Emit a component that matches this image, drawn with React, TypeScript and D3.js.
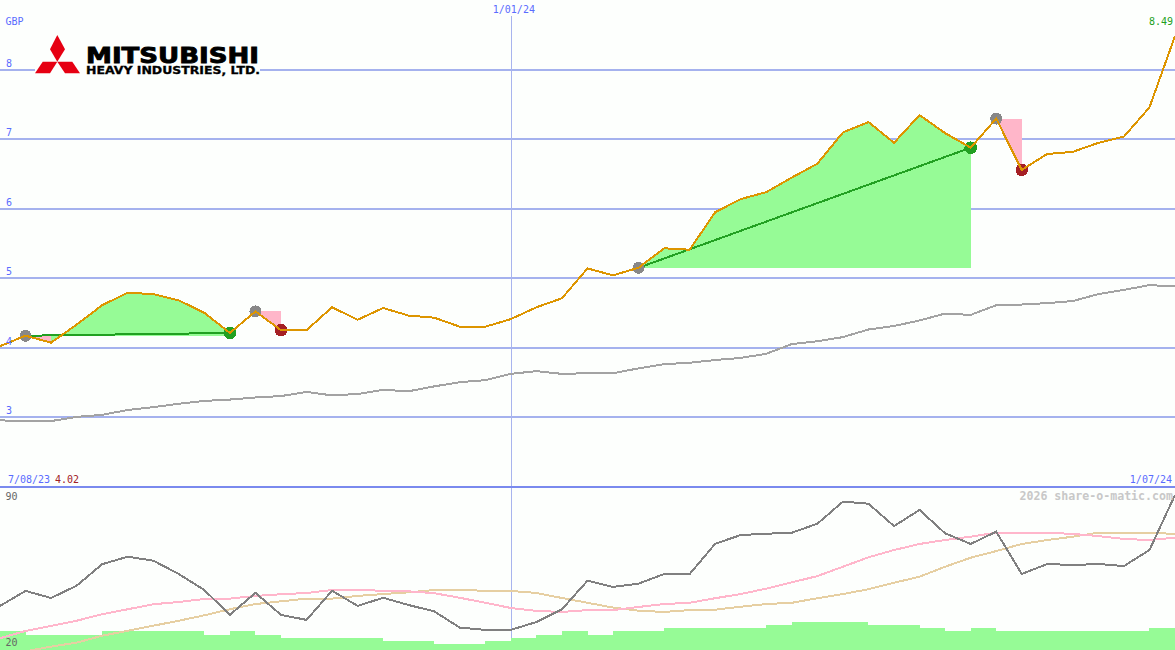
import React from "react";
import * as d3 from "d3";

const price = [4.02,4.17,4.07,4.33,4.61,4.79,4.77,4.68,4.50,4.21,4.52,4.25,4.25,4.58,4.40,4.57,4.46,4.43,4.30,4.30,4.41,4.58,4.71,5.14,5.04,5.15,5.43,5.41,5.95,6.14,6.24,6.45,6.65,7.10,7.25,6.95,7.35,7.09,6.88,7.30,6.56,6.79,6.82,6.95,7.04,7.46,8.49];
const longAverage = [2.95,2.94,2.94,3.00,3.03,3.10,3.14,3.19,3.23,3.25,3.28,3.30,3.36,3.31,3.33,3.39,3.37,3.44,3.50,3.53,3.62,3.66,3.62,3.63,3.63,3.70,3.76,3.78,3.82,3.85,3.91,4.05,4.09,4.15,4.26,4.31,4.39,4.49,4.47,4.61,4.62,4.64,4.67,4.77,4.83,4.90,4.88];
const oscillator = [37.3,44.5,41.1,47.0,57.3,60.9,59.0,52.6,44.9,33.0,43.6,33.0,30.6,44.6,37.3,41.2,37.7,34.7,26.9,25.8,25.8,29.6,35.7,49.4,46.4,48.0,52.6,52.6,67.1,71.3,71.9,72.4,76.7,87.3,86.3,75.6,83.3,72.1,67.0,72.9,52.6,57.4,56.9,57.4,56.4,64.1,90.5];
const oscFast = [21.8,25.3,27.7,30.2,33.3,35.7,38.1,39.2,40.6,40.8,42.1,42.9,43.5,44.9,45.1,44.5,44.3,43.4,41.2,38.8,36.3,34.9,34.4,35.3,35.3,36.8,38.2,38.8,41.0,43.0,45.6,48.6,51.6,56.1,60.6,64.1,67.0,68.9,70.5,72.4,72.4,72.4,71.8,70.8,69.4,68.9,70.0];
const oscSlow = [13.8,15.5,17.8,19.7,23.0,25.4,27.8,30.2,32.8,35.7,38.2,39.5,40.8,40.8,42.1,43.0,43.8,44.9,45.1,44.5,44.5,43.5,41.1,38.8,36.5,35.0,34.4,35.3,35.5,36.9,38.2,38.8,41.0,43.0,45.3,48.4,51.3,56.1,60.4,63.6,67.0,68.9,70.5,72.4,72.4,72.4,71.8];
const volume = [19,15,15,15,19,19,19,19,15,19,15,12,12,12,12,9,9,6,6,9,12,15,19,15,19,19,22,22,22,22,25,28,28,28,25,25,22,19,22,19,19,19,19,19,19,22];
const trades = [
  { from: 1, to: 9 },
  { from: 10, to: 11 },
  { from: 25, to: 38 },
  { from: 39, to: 40 },
];
const priceTicks = [3, 4, 5, 6, 7, 8];
const topDate = { index: 20, label: "1/01/24" };
const startDate = "7/08/23";
const startPrice = "4.02";
const endDate = "1/07/24";
const endPrice = "8.49";
const currency = "GBP";
const watermark = "2026 share-o-matic.com";

const W = 1175, H = 650;
const MONO = "'DejaVu Sans Mono', monospace";
const BLUE = "#5a6cff";
const GREEN_FILL = "#96fb96";
const PINK_FILL = "#ffb6c9";

export default function App() {
  const x = d3.scaleLinear().domain([0, 46]).range([0, W]);
  const y = d3.scaleLinear().domain([3, 8]).range([416.9, 70]);
  const yo = d3.scaleLinear().domain([20, 90]).range([642, 496]);
  const yv = d3.scaleLinear().domain([0, 28]).range([H, 622]);
  const line = (vals: number[], sy: (v: number) => number) =>
    d3.line<number>().x((_, i) => x(i)).y((d) => sy(d))(vals) as string;

  const greenSegments: string[] = [];
  const pinkSegments: string[] = [];
  trades.forEach((t) => {
    const base = price[t.from];
    for (let i = t.from; i < t.to; i++) {
      const d = d3.area<number>().x((k) => x(k)).y0(y(base)).y1((k) => y(price[k]))([i, i + 1]) as string;
      (price[i + 1] >= base ? greenSegments : pinkSegments).push(d);
    }
  });

  const volumeBars = d3.area<number>()
    .curve(d3.curveStepAfter)
    .x((_, i) => x(i))
    .y0(H)
    .y1((d) => yv(d))([...volume, volume[volume.length - 1]]) as string;

  return (
    <svg width={W} height={H} shapeRendering="crispEdges" style={{ position: "fixed", left: 0, top: 0, background: "#fdfffd" }}>
      {priceTicks.map((t) => (
        <line key={t} x1={0} x2={W} y1={y(t)} y2={y(t)} stroke="#a5b2ee" strokeWidth={2} />
      ))}
      <line x1={x(topDate.index) + 0.6} x2={x(topDate.index) + 0.6} y1={16} y2={638} stroke="#a8b4ee" strokeWidth={1} />
      <line x1={0} x2={W} y1={487} y2={487} stroke="#7a8aee" strokeWidth={2} />

      <path d={greenSegments.join("")} fill={GREEN_FILL} />
      <path d={pinkSegments.join("")} fill={PINK_FILL} />

      <path d={line(longAverage, y)} fill="none" stroke="#a3a3a3" strokeWidth={2} />

      {trades.map((t, i) => {
        const won = price[t.to] >= price[t.from];
        const c = won ? "#22a022" : "#a52025";
        return (
          <g key={i}>
            {won && <line x1={x(t.from)} y1={y(price[t.from])} x2={x(t.to)} y2={y(price[t.to])} stroke="#22a022" strokeWidth={2} />}
            <circle cx={x(t.from)} cy={y(price[t.from])} r={6} fill="#888888" />
            <circle cx={x(t.to)} cy={y(price[t.to])} r={6.3} fill={c} />
          </g>
        );
      })}

      <path d={line(price, y)} fill="none" stroke="#dd9500" strokeWidth={2} />

      {/* logo */}
      <g shapeRendering="geometricPrecision">
        <rect x={35} y={34} width={225} height={41} fill="#fdfffd" />
        <polygon points="57.3,35 65,49.3 57.3,61.7 50,49.3" fill="#e60012" />
        <polygon points="35,73.3 42.7,61.7 57.3,61.7 50,73.3" fill="#e60012" />
        <polygon points="57.3,61.7 72.3,61.7 80,73.3 65,73.3" fill="#e60012" />
        <text x={86} y={63.4} fontFamily="'DejaVu Sans', sans-serif" fontWeight={700} fontSize={22} textLength={173} lengthAdjust="spacingAndGlyphs" stroke="#000" strokeWidth={0.9}>MITSUBISHI</text>
        <text x={86} y={73.5} fontFamily="'DejaVu Sans', sans-serif" fontWeight={700} fontSize={10} textLength={174} lengthAdjust="spacingAndGlyphs" stroke="#000" strokeWidth={0.3}>HEAVY INDUSTRIES, LTD.</text>
      </g>

      {/* lower panel */}
      <path d={volumeBars} fill={GREEN_FILL} />
      <path d={line(oscSlow, yo)} fill="none" stroke="#e6cfa2" strokeWidth={2} />
      <path d={line(oscFast, yo)} fill="none" stroke="#ffb6cb" strokeWidth={2} />
      <path d={line(oscillator, yo)} fill="none" stroke="#808080" strokeWidth={2} />

      <g fontFamily={MONO} fontSize={10}>
        <text x={5.5} y={25} fill={BLUE}>{currency}</text>
        {priceTicks.map((t) => (
          <text key={t} x={6} y={y(t) - 3} fill={BLUE}>{t}</text>
        ))}
        <text x={x(topDate.index) + 3} y={13} fill={BLUE} textAnchor="middle">{topDate.label}</text>
        <text x={8} y={483} fill={BLUE}>{startDate}</text>
        <text x={55} y={483} fill="#a02025">{startPrice}</text>
        <text x={1172} y={483} fill={BLUE} textAnchor="end">{endDate}</text>
        <text x={1173} y={25} fill="#22a022" textAnchor="end">{endPrice}</text>
        <text x={5.5} y={500} fill="#666">90</text>
        <text x={5.5} y={646} fill="#666">20</text>
      </g>
      <text x={1173} y={500} textAnchor="end" fontFamily={MONO} fontWeight={700} fontSize={11.6} fill="#c8c8c8">{watermark}</text>
    </svg>
  );
}
